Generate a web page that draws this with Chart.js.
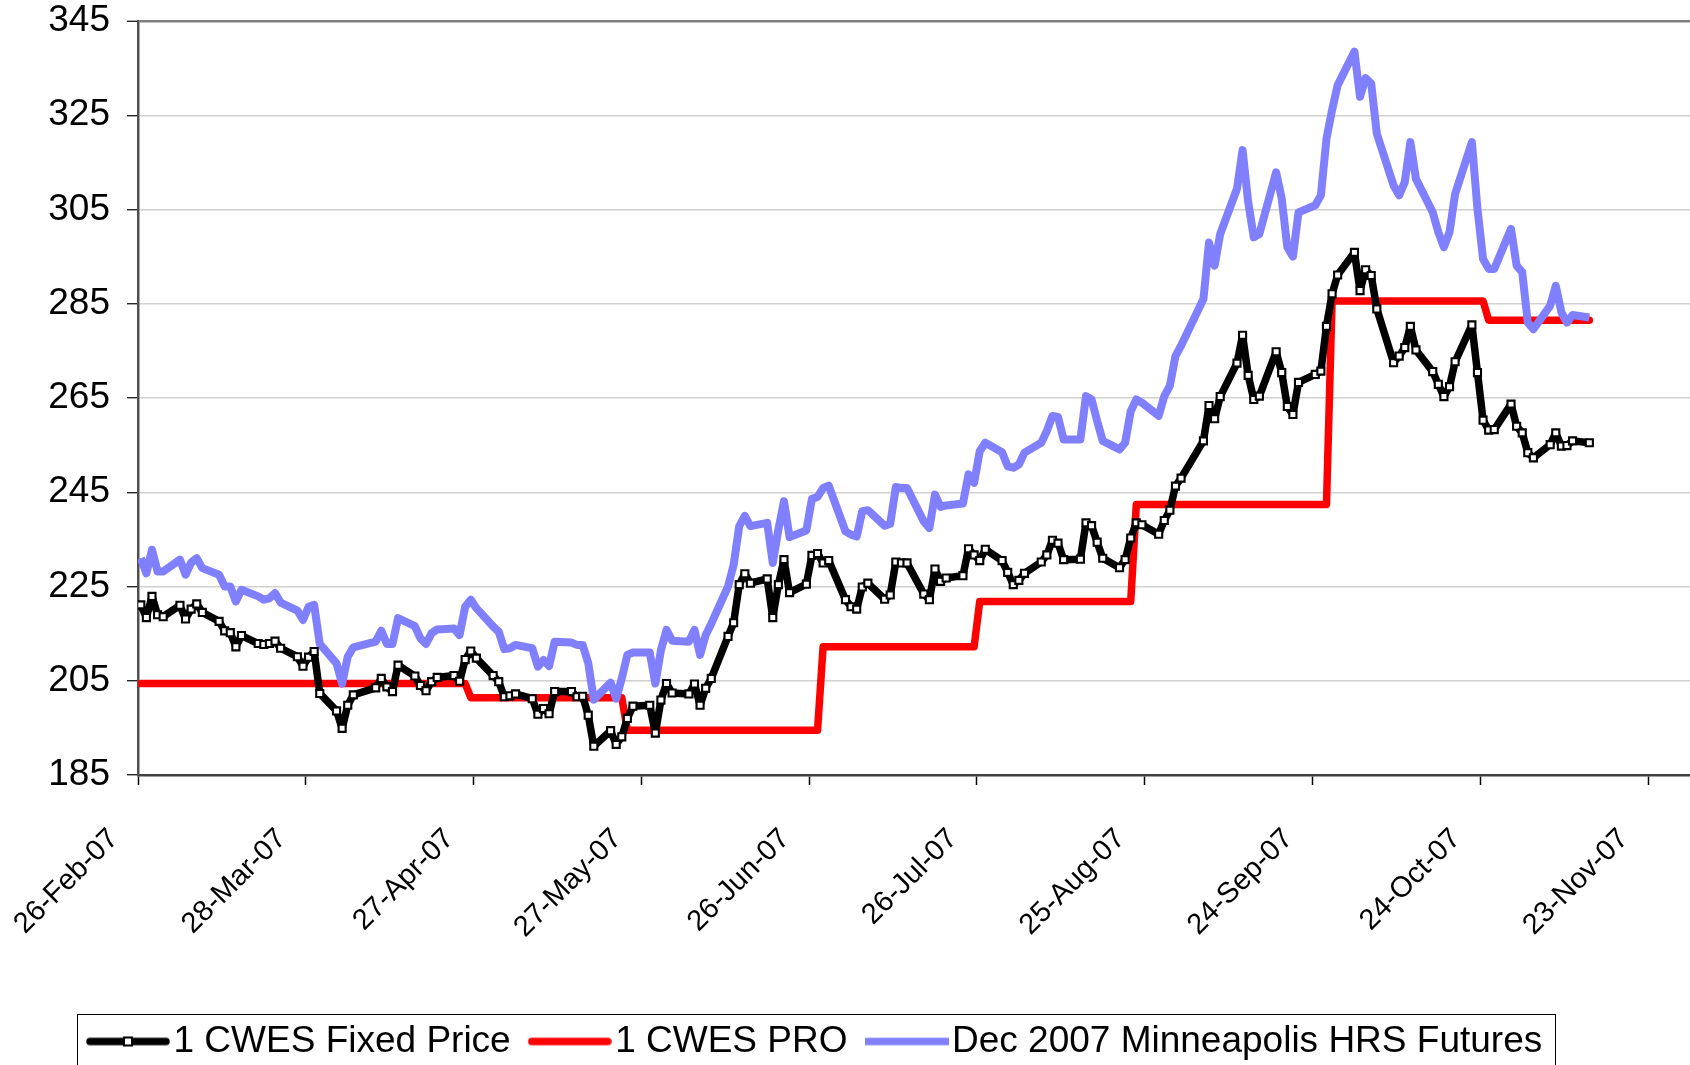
<!DOCTYPE html>
<html>
<head>
<meta charset="utf-8">
<script src="https://cdn.jsdelivr.net/npm/chart.js@4.4.1/dist/chart.umd.min.js"></script>
<style>
  html, body { margin: 0; padding: 0; background: #ffffff; overflow: hidden; }
  #wrap { position: relative; width: 1690px; height: 1070px; }
</style>
</head>
<body>
<div id="wrap"><canvas id="chart"></canvas></div>
<script>
// ---------------- DATA ----------------
// Trading days, counted in days from 26-Feb-07 (Good Friday and Labor Day absent).
const tradingDays = [
  0, 1, 2, 3, 4,        7, 8, 9, 10, 11,      14, 15, 16, 17, 18,   21, 22, 23, 24, 25,
  28, 29, 30, 31, 32,   35, 36, 37, 38,       42, 43, 44, 45, 46,   49, 50, 51, 52, 53,
  56, 57, 58, 59, 60,   63, 64, 65, 66, 67,   70, 71, 72, 73, 74,   77, 78, 79, 80, 81,
  84, 85, 86, 87, 88,   91, 92, 93, 94, 95,   98, 99, 100, 101, 102,
  105, 106, 107, 108, 109,  112, 113, 114, 115, 116,  119, 120, 121, 122, 123,
  126, 127, 128, 129, 130,  133, 134, 135, 136, 137,  140, 141, 142, 143, 144,
  147, 148, 149, 150, 151,  154, 155, 156, 157, 158,  161, 162, 163, 164, 165,
  168, 169, 170, 171, 172,  175, 176, 177, 178, 179,  182, 183, 184, 185, 186,
  190, 191, 192, 193,       196, 197, 198, 199, 200,  203, 204, 205, 206, 207,
  210, 211, 212, 213, 214,  217, 218, 219, 220, 221,  224, 225, 226, 227, 228,
  231, 232, 233, 234, 235,  238, 239, 240, 241, 242,  245, 246, 247, 248, 249,
  252, 253, 254, 255, 256,  259
];

// 1 CWES Fixed Price
const fixedPrice = [
  221.1, 218.4, 222.9, 219.0, 218.6,   221.0, 218.1, 220.2, 221.3, 219.5,
  217.6, 215.6, 215.2, 212.2, 214.6,   212.9, 212.7, 212.9, 213.4, 211.9,
  210.1, 208.1, 210.0, 211.2, 202.3,   198.6, 194.9, 199.8, 202.0,
  203.5, 205.5, 203.7, 202.7, 208.3,   206.0, 204.0, 202.9, 204.8, 205.7,
  206.1, 204.9, 209.5, 211.3, 209.8,   206.1, 204.8, 201.6, 201.8, 202.2,
  201.2, 197.9, 199.1, 198.0, 202.7,   202.7, 201.6, 201.7, 197.7, 191.1,
  194.4, 191.5, 193.1, 197.0, 199.6,   199.8, 193.9, 200.9, 204.4, 202.4,
  202.2, 204.3, 199.8, 203.4, 205.5,
  214.4, 217.3, 225.4, 227.7, 225.7,   226.6, 218.4, 225.4, 230.7, 223.7,
  225.5, 231.6, 232.0, 230.0, 230.5,   222.2, 220.7, 220.2, 224.9, 225.7,
  222.3, 223.2, 230.2, 230.0, 230.0,   223.4, 222.2, 228.7, 226.1, 226.8,
  227.3, 233.0, 231.7, 230.5, 232.9,   230.5, 228.0, 225.4, 226.3, 227.8,
  230.2, 231.7, 234.8, 234.2, 230.7,   230.8, 238.5, 237.9, 234.4, 231.0,
  229.0, 230.7, 235.3, 238.5, 238.1,   236.1, 239.0, 241.2, 246.3, 248.0,
  255.9, 263.4, 260.6, 265.3,          272.4, 278.3, 269.8, 264.7, 265.4,
  274.8, 270.4, 263.2, 261.5, 268.3,   270.0, 270.7, 280.2, 287.1, 291.1,
  295.9, 287.8, 292.2, 291.0, 283.9,   272.5, 273.9, 275.7, 280.2, 275.2,
  270.6, 267.9, 265.3, 267.4, 272.7,   280.5, 270.4, 260.3, 258.2, 258.3,
  263.7, 259.0, 257.6, 253.4, 252.3,   255.1, 257.6, 254.8, 254.9, 255.9,
  255.5
];

// Dec 2007 Minneapolis HRS Futures
const futures = [
  231.0, 227.8, 232.8, 228.2, 228.2,   230.7, 227.5, 230.1, 231.0, 228.9,
  227.5, 225.0, 225.0, 221.8, 224.3,   222.9, 222.2, 222.5, 223.6, 221.6,
  219.9, 217.9, 220.7, 221.1, 212.8,   208.7, 204.4, 210.1, 212.1,
  213.3, 215.6, 212.8, 212.8, 218.3,   216.6, 214.0, 212.8, 215.1, 215.9,
  216.1, 214.7, 220.7, 222.2, 220.4,   216.5, 215.4, 211.7, 211.9, 212.6,
  211.9, 208.0, 209.4, 208.1, 213.3,   213.1, 212.6, 212.6, 208.8, 201.0,
  204.6, 201.2, 205.5, 210.5, 211.0,   211.0, 204.4, 211.5, 215.8, 213.5,
  213.3, 215.8, 210.5, 214.7, 217.1,
  225.0, 229.6, 237.8, 240.0, 237.8,   238.5, 230.0, 237.1, 243.1, 235.5,
  236.9, 243.6, 244.0, 245.9, 246.4,   236.7, 236.0, 235.6, 241.0, 241.2,
  237.9, 238.3, 246.1, 245.9, 245.9,   238.8, 237.4, 244.5, 241.9, 242.2,
  242.6, 248.8, 247.0, 253.7, 255.5,   253.5, 250.5, 250.2, 250.9, 253.4,
  255.5, 258.0, 261.2, 261.0, 256.2,   256.2, 265.4, 264.7, 260.1, 255.9,
  254.1, 255.5, 262.2, 264.7, 264.0,   261.2, 265.4, 267.6, 273.9, 276.1,
  286.0, 298.0, 293.1, 299.8,          309.4, 317.6, 306.6, 299.1, 299.8,
  312.9, 307.3, 297.0, 295.0, 304.4,   305.9, 308.0, 320.0, 326.1, 331.4,
  338.5, 328.9, 332.9, 331.7, 321.1,   310.1, 308.0, 310.8, 319.3, 311.5,
  304.4, 300.2, 297.0, 300.2, 308.3,   319.3, 305.1, 294.5, 292.4, 292.4,
  300.9, 293.1, 291.7, 281.0, 279.6,   284.6, 288.8, 283.2, 281.0, 282.6,
  282.1
];

// 1 CWES PRO (step series: corner points)
const proDays   = [0, 58, 59, 86, 87, 121, 122, 149, 150, 177, 178, 212, 213, 240, 241, 259];
const proValues = [204.4, 204.4, 201.4, 201.4, 194.5, 194.5, 212.2, 212.2,
                   221.8, 221.8, 242.4, 242.4, 285.6, 285.6, 281.5, 281.5];

const tickDays   = [0, 30, 60, 90, 120, 150, 180, 210, 240, 270];
const tickLabels = ['26-Feb-07', '28-Mar-07', '27-Apr-07', '27-May-07', '26-Jun-07',
                    '26-Jul-07', '25-Aug-07', '24-Sep-07', '24-Oct-07', '23-Nov-07'];
const yTicks     = [185, 205, 225, 245, 265, 285, 305, 325, 345];
const seriesNames = ['1 CWES Fixed Price', '1 CWES PRO', 'Dec 2007 Minneapolis HRS Futures'];

// ---------------- CHART ----------------
const FONT = "'Liberation Sans', Arial, sans-serif";
// On a date axis each value sits in the middle of its day.
function toPoints(days, values) {
  return days.map((d, i) => ({ x: d + 0.5, y: values[i] }));
}

function legendIcon(color, withMarker, cap) {
  const c = document.createElement('canvas');
  c.width = 84; c.height = 16;
  const g = c.getContext('2d');
  g.strokeStyle = color; g.lineWidth = 7.5; g.lineCap = cap;
  g.beginPath();
  g.moveTo(cap === 'round' ? 4 : 0, 8);
  g.lineTo(cap === 'round' ? 80 : 84, 8);
  g.stroke();
  if (withMarker) {
    g.fillStyle = '#ffffff';
    g.fillRect(38, 4, 8, 8);
    g.strokeStyle = '#000000'; g.lineWidth = 2;
    g.strokeRect(38, 4, 8, 8);
  }
  return c;
}
const legendIcons = [
  legendIcon('#000000', true, 'round'),
  legendIcon('#ff0000', false, 'round'),
  legendIcon('#8080ff', false, 'butt')
];

// Shift the legend block so its items start where the reference's do.
const legendShift = {
  id: 'legendShift',
  afterLayout(chart) {
    if (chart.legend) { chart.legend.left = 69; }
  }
};

const legendFrame = {
  id: 'legendFrame',
  afterDraw(chart) {
    const hb = chart.legend && chart.legend.legendHitBoxes;
    if (!hb || !hb.length) return;
    const ctx = chart.ctx;
    const first = hb[0], last = hb[hb.length - 1];
    const cy = first.top + first.height / 2;
    const left = Math.round(first.left - 24.5) + 0.5;
    const right = Math.round(last.left + last.width + 12.5) + 0.5;
    const top = Math.round(cy - 28) + 0.5;
    const bottom = Math.round(cy + 40) + 0.5;
    ctx.save();
    ctx.strokeStyle = '#000000';
    ctx.lineWidth = 1;
    ctx.strokeRect(left, top, right - left, bottom - top);
    ctx.restore();
  }
};

new Chart(document.getElementById('chart'), {
  type: 'line',
  data: {
    datasets: [
      {
        label: seriesNames[0],
        data: toPoints(tradingDays, fixedPrice),
        borderColor: '#000000',
        borderWidth: 7.5,
        borderJoinStyle: 'round',
        borderCapStyle: 'round',
        pointStyle: 'rect',
        pointRadius: 5,
        pointBackgroundColor: '#ffffff',
        pointBorderColor: '#000000',
        pointBorderWidth: 2.1,
        order: 0
      },
      {
        label: seriesNames[1],
        data: toPoints(proDays, proValues),
        borderColor: '#ff0000',
        borderWidth: 7.5,
        borderJoinStyle: 'round',
        borderCapStyle: 'round',
        pointRadius: 0,
        order: 2
      },
      {
        label: seriesNames[2],
        data: toPoints(tradingDays, futures),
        borderColor: '#8080ff',
        borderWidth: 8,
        borderJoinStyle: 'round',
        pointRadius: 0,
        order: 1
      }
    ]
  },
  options: {
    responsive: true,
    maintainAspectRatio: false,
    animation: false,
    devicePixelRatio: 1,
    events: [],
    layout: { autoPadding: false, padding: { left: 0, top: 21, right: 0, bottom: 0 } },
    plugins: {
      tooltip: { enabled: false },
      legend: {
        position: 'bottom',
        align: 'start',
        labels: {
          color: '#000000',
          font: { family: FONT, size: 37 },
          usePointStyle: true,
          pointStyleWidth: 54,
          padding: 32,
          generateLabels(chart) {
            const items = Chart.defaults.plugins.legend.labels.generateLabels(chart);
            items.sort((a, b) => a.datasetIndex - b.datasetIndex);
            items.forEach(it => { it.pointStyle = legendIcons[it.datasetIndex]; });
            return items;
          }
        }
      }
    },
    scales: {
      x: {
        type: 'linear',
        min: 0,
        max: 277.5,
        afterBuildTicks(scale) { scale.ticks = tickDays.map(v => ({ value: v })); },
        afterFit(scale) { scale.height = 216; scale.paddingLeft = 0; scale.paddingRight = 0; },
        grid: { drawOnChartArea: false, drawTicks: true, tickLength: 10, tickColor: '#000000', tickWidth: 1.5 },
        border: { display: true, color: '#404040', width: 2.5 },
        ticks: {
          autoSkip: false,
          minRotation: 45,
          maxRotation: 45,
          padding: 37,
          labelOffset: -24,
          color: '#000000',
          font: { family: FONT, size: 29 },
          callback: (v) => tickLabels[tickDays.indexOf(v)]
        }
      },
      y: {
        min: 185,
        max: 345,
        afterBuildTicks(scale) { scale.ticks = yTicks.map(v => ({ value: v })); },
        afterFit(scale) { scale.width = 138; scale.paddingTop = 0; scale.paddingBottom = 0; },
        grid: {
          color: (ctx) => (ctx.tick && ctx.tick.value === 345) ? '#808080' : '#d0d0d0',
          lineWidth: (ctx) => (ctx.tick && ctx.tick.value === 345) ? 2.5 : 1.5,
          tickLength: 11,
          tickColor: '#000000',
          tickWidth: 1.2
        },
        border: { display: true, color: '#505050', width: 2.5 },
        ticks: { padding: 17, color: '#000000', font: { family: FONT, size: 37 } }
      }
    }
  },
  plugins: [legendShift, legendFrame]
});
</script>
</body>
</html>
